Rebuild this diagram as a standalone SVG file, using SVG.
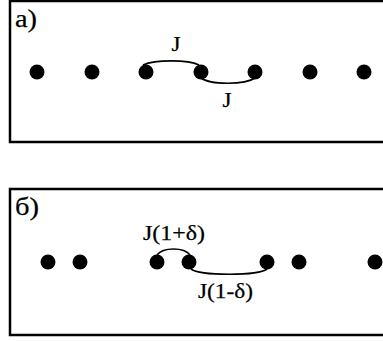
<svg xmlns="http://www.w3.org/2000/svg" width="383" height="341" viewBox="0 0 383 341">
<style>
.frame{fill:none;stroke:#000;stroke-width:2.5}
.site{fill:#000}
.bond{fill:none;stroke:#000;stroke-width:1.6}
text{font-family:"Liberation Serif","Times New Roman",serif;fill:#000;stroke:#000;stroke-width:0.25}
.lbl{font-size:25px}
.bl{font-size:22px}
</style>
<rect width="383" height="341" fill="#fff"/>
<g id="panel-a">
<rect class="frame" x="10" y="1" width="390" height="141"/>
<text class="lbl" x="15" y="27" textLength="22" lengthAdjust="spacingAndGlyphs">a)</text>
<g id="a-sites">
<circle class="site" cx="37" cy="72" r="7.5"/>
<circle class="site" cx="92" cy="72" r="7.5"/>
<circle class="site" cx="146" cy="72" r="7.5"/>
<circle class="site" cx="201" cy="72" r="7.5"/>
<circle class="site" cx="255" cy="72" r="7.5"/>
<circle class="site" cx="310" cy="72" r="7.5"/>
<circle class="site" cx="364" cy="72" r="7.5"/>
</g>
<text class="bl" x="171.5" y="51" textLength="9" lengthAdjust="spacingAndGlyphs">J</text>
<text class="bl" x="222.5" y="107" textLength="9" lengthAdjust="spacingAndGlyphs">J</text>
</g>
<g id="panel-b">
<rect class="frame" x="10" y="189" width="390" height="146"/>
<text class="lbl" x="15" y="215" textLength="24" lengthAdjust="spacingAndGlyphs">б)</text>
<g id="b-sites">
<circle class="site" cx="48" cy="262" r="7.5"/>
<circle class="site" cx="80" cy="262" r="7.5"/>
<circle class="site" cx="157" cy="262" r="7.5"/>
<circle class="site" cx="189" cy="262" r="7.5"/>
<circle class="site" cx="267" cy="262" r="7.5"/>
<circle class="site" cx="299" cy="262" r="7.5"/>
<circle class="site" cx="375" cy="262" r="7.5"/>
</g>
<text class="bl" x="143" y="240" textLength="62" lengthAdjust="spacingAndGlyphs">J(1+δ)</text>
<text class="bl" x="198" y="298" textLength="55" lengthAdjust="spacingAndGlyphs">J(1-δ)</text>
</g>
<g id="connectors">
<path class="bond" d="M143,65 C155,59.5 188,59.5 199,65"/>
<path class="bond" d="M201,78 C210,85 245,85 255,78"/>
<path class="bond" d="M157,255 C163,247 184,247 190,255"/>
<path class="bond" d="M191,269 C200,276 258,276 267,269"/>
</g>
</svg>
